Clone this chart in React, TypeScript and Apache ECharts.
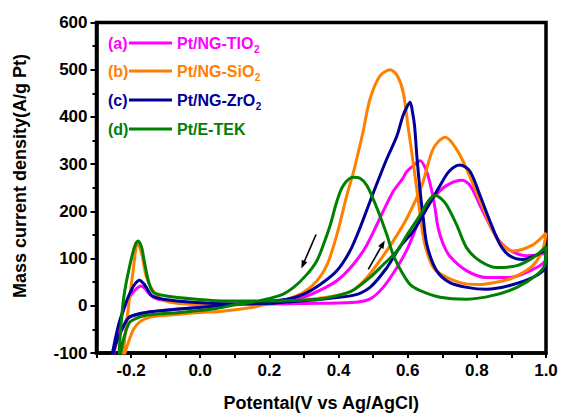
import React, { useEffect, useRef } from "react";
import * as echarts from "echarts";

type P = [number, number];

// ---- data (potential V, current A/g Pt) ----
const tiO2Forward: P[] = [
  [-0.256, -125], [-0.245, -75], [-0.232, -35], [-0.22, -5], [-0.205, 18], [-0.186, 35], [-0.172, 42],
  [-0.16, 37], [-0.15, 27], [-0.135, 18], [-0.108, 12], [-0.012, 6], [0.084, 4], [0.2, 4], [0.3, 5],
  [0.44, 7], [0.49, 14], [0.529, 39], [0.569, 81], [0.6, 122], [0.636, 184], [0.674, 228], [0.713, 255],
  [0.757, 266], [0.782, 253], [0.809, 213], [0.838, 170], [0.862, 140], [0.895, 118], [0.944, 106],
  [0.981, 108], [1.0, 112],
];
const tiO2Reverse: P[] = [
  [1.0, 112], [0.997, 95], [0.962, 77], [0.895, 60], [0.828, 60], [0.771, 74], [0.722, 105], [0.703, 130],
  [0.688, 165], [0.679, 207], [0.67, 242], [0.655, 284], [0.636, 307], [0.616, 297], [0.597, 284],
  [0.586, 270], [0.558, 242], [0.52, 186], [0.482, 129], [0.442, 87], [0.395, 53], [0.347, 33],
  [0.298, 18], [0.251, 11], [0.153, 5], [0.037, -1], [-0.061, -7], [-0.156, -14], [-0.205, -24],
  [-0.223, -45], [-0.243, -80], [-0.256, -125],
];

const siO2Forward: P[] = [
  [-0.228, -125], [-0.222, -94], [-0.209, -10], [-0.194, 74], [-0.182, 130], [-0.175, 124], [-0.168, 106],
  [-0.156, 62], [-0.137, 32], [-0.108, 12], [-0.061, 5], [0.037, 2], [0.15, 3], [0.25, 8], [0.3, 12],
  [0.395, 22], [0.442, 33], [0.482, 60], [0.511, 87], [0.558, 137], [0.598, 186], [0.641, 255],
  [0.674, 333], [0.708, 357], [0.746, 326], [0.786, 263], [0.818, 207], [0.858, 144], [0.904, 116],
  [0.962, 129], [1.0, 154],
];
const siO2Reverse: P[] = [
  [1.0, 154], [0.99, 118], [0.96, 84], [0.9, 58], [0.849, 49], [0.8, 45], [0.751, 49], [0.703, 64],
  [0.674, 81], [0.652, 123], [0.641, 165], [0.626, 249], [0.617, 297], [0.602, 375], [0.587, 452],
  [0.57, 487], [0.55, 500], [0.52, 487], [0.491, 438], [0.471, 369], [0.453, 312], [0.442, 280],
  [0.424, 234], [0.395, 150], [0.367, 87], [0.338, 53], [0.298, 28], [0.251, 14], [0.2, 5], [0.153, -3],
  [0.057, -12], [0.0, -14], [-0.096, -20], [-0.144, -24], [-0.173, -33], [-0.193, -50], [-0.208, -78],
  [-0.222, -110], [-0.228, -125],
];

const zrO2Forward: P[] = [
  [-0.26, -125], [-0.249, -82], [-0.236, -40], [-0.223, -10], [-0.205, 24], [-0.19, 45], [-0.175, 54],
  [-0.165, 48], [-0.156, 39], [-0.141, 22], [-0.108, 14], [-0.012, 7], [0.084, 4], [0.2, 5], [0.25, 8],
  [0.347, 14], [0.442, 22], [0.491, 39], [0.54, 81], [0.578, 125], [0.616, 158], [0.656, 207],
  [0.694, 255], [0.72, 285], [0.751, 298], [0.78, 285], [0.809, 234], [0.838, 179], [0.867, 130],
  [0.895, 106], [0.933, 98], [0.974, 108], [1.0, 118],
];
const zrO2Reverse: P[] = [
  [1.0, 118], [0.997, 81], [0.962, 60], [0.895, 43], [0.828, 35], [0.771, 39], [0.722, 49], [0.684, 74],
  [0.656, 128], [0.645, 186], [0.636, 242], [0.627, 312], [0.62, 380], [0.614, 410], [0.607, 431],
  [0.597, 420], [0.586, 402], [0.569, 360], [0.54, 312], [0.525, 285], [0.491, 221], [0.462, 165],
  [0.433, 116], [0.395, 74], [0.347, 45], [0.298, 24], [0.251, 14], [0.153, 7], [0.037, -1],
  [-0.061, -7], [-0.156, -14], [-0.205, -24], [-0.223, -45], [-0.243, -78], [-0.26, -125],
];

const etekForward: P[] = [
  [-0.237, -125], [-0.228, -31], [-0.22, 24], [-0.205, 81], [-0.19, 125], [-0.18, 137], [-0.17, 125],
  [-0.162, 95], [-0.15, 53], [-0.136, 29], [-0.107, 22], [-0.012, 14], [0.084, 10], [0.2, 10],
  [0.3, 12], [0.347, 14], [0.4, 22], [0.442, 33], [0.491, 60], [0.529, 87], [0.569, 116], [0.598, 150],
  [0.636, 192], [0.66, 222], [0.679, 234], [0.698, 226], [0.713, 213], [0.742, 171], [0.771, 122],
  [0.809, 95], [0.858, 81], [0.916, 85], [0.962, 102], [1.0, 125],
];
const etekReverse: P[] = [
  [1.0, 125], [0.997, 88], [0.974, 66], [0.916, 39], [0.847, 22], [0.771, 14], [0.694, 18], [0.636, 32],
  [0.607, 45], [0.584, 70], [0.558, 108], [0.54, 150], [0.511, 207], [0.482, 255], [0.462, 270],
  [0.443, 272], [0.414, 255], [0.395, 221], [0.376, 171], [0.356, 129], [0.337, 95], [0.308, 66],
  [0.27, 39], [0.231, 22], [0.153, 8], [0.1, 2], [0.037, -7], [-0.061, -14], [-0.156, -20],
  [-0.19, -28], [-0.205, -36], [-0.22, -66], [-0.237, -125],
];

const seriesNames = ["Pt/NG-TIO", "Pt/NG-SiO", "Pt/NG-ZrO", "Pt/E-TEK"];
const seriesTags = ["(a)", "(b)", "(c)", "(d)"];
const seriesSubs = ["2", "2", "2", ""];
const seriesColors = ["#FF00FF", "#FF8000", "#000099", "#008000"];
const seriesLoops: P[][] = [
  [...tiO2Forward, ...tiO2Reverse],
  [...siO2Forward, ...siO2Reverse],
  [...zrO2Forward, ...zrO2Reverse],
  [...etekForward, ...etekReverse],
];

// scan-direction arrows (data coords: tail -> head)
const scanArrows: [P, P][] = [
  [[0.335, 151], [0.297, 87]],
  [[0.486, 77], [0.528, 131]],
];

const FONT = '"Liberation Sans", Arial, Helvetica, sans-serif';

export default function App() {
  const ref = useRef<HTMLDivElement>(null);

  useEffect(() => {
    if (!ref.current) return;
    const chart = echarts.init(ref.current, undefined, { renderer: "svg" });

    const ctx = document.createElement("canvas").getContext("2d")!;
    ctx.font = `bold 16px ${FONT}`;

    const rowsY = [43, 71, 100, 129];
    const graphics: any[] = [];
    const txt = (x: number, y: number, text: string, fill: string, size: number, extra: any = {}) => ({
      type: "text",
      x,
      y,
      style: {
        text,
        fill,
        fontSize: size,
        fontWeight: "bold",
        fontFamily: FONT,
        textVerticalAlign: "middle",
        ...extra,
      },
    });
    seriesNames.forEach((name, i) => {
      const y = rowsY[i];
      const c = seriesColors[i];
      graphics.push(txt(108, y, seriesTags[i], c, 16));
      graphics.push({
        type: "line",
        shape: { x1: 129, y1: y, x2: 172, y2: y },
        style: { stroke: c, lineWidth: 3 },
      });
      const lx = 177;
      graphics.push(txt(lx, y, name, c, 16));
      if (seriesSubs[i]) {
        const w = ctx.measureText(name).width;
        graphics.push(txt(lx + w + 0.5, y + 6, seriesSubs[i], c, 10));
      }
    });
    graphics.push({
      type: "text",
      x: 20,
      y: 176,
      rotation: Math.PI / 2,
      style: {
        text: "Mass current density(A/g Pt)",
        fill: "#000",
        fontSize: 18,
        fontWeight: "bold",
        fontFamily: FONT,
        textAlign: "center",
        textVerticalAlign: "middle",
      },
    });

    const series: any[] = seriesLoops.map((loop, i) => ({
      type: "line",
      name: seriesNames[i],
      data: loop,
      showSymbol: false,
      symbol: "none",
      smooth: 0.3,
      lineStyle: { color: seriesColors[i], width: 3 },
      z: 2 + i,
    }));
    series.push({
      type: "line",
      data: [],
      markLine: {
        silent: true,
        symbol: ["none", "triangle"],
        symbolSize: [6, 8],
        label: { show: false },
        lineStyle: { color: "#000", width: 1.6, type: "solid" },
        data: scanArrows.map(([a, b]) => [{ coord: a }, { coord: b }]),
      },
    });

    chart.setOption({
      animation: false,
      grid: {
        left: 96.5,
        right: 16,
        top: 22.5,
        bottom: 61.5,
        show: true,
        borderColor: "#000",
        borderWidth: 3.5,
      },
      xAxis: {
        type: "value",
        min: -0.3,
        max: 1.0,
        interval: 0.1,
        axisLine: { show: true, onZero: false, lineStyle: { color: "#000", width: 3.5 } },
        axisTick: { show: true, inside: false, length: 5, lineStyle: { color: "#000", width: 2 } },
        splitLine: { show: false },
        axisLabel: {
          color: "#000",
          fontWeight: "bold",
          fontSize: 17,
          fontFamily: FONT,
          margin: 9,
          formatter: (v: number) => {
            const t = Math.round(v * 10);
            return t % 2 === 0 ? (t / 10).toFixed(1) : "";
          },
        },
        name: "Potental(V vs Ag/AgCl)",
        nameLocation: "middle",
        nameGap: 41,
        nameTextStyle: { color: "#000", fontWeight: "bold", fontSize: 18, fontFamily: FONT },
      },
      yAxis: {
        type: "value",
        min: -100,
        max: 600,
        interval: 100,
        axisLine: { show: true, onZero: false, lineStyle: { color: "#000", width: 3.5 } },
        axisTick: { show: true, inside: false, length: 6, lineStyle: { color: "#000", width: 2 } },
        minorTick: { show: true, splitNumber: 2, length: 4, lineStyle: { color: "#000", width: 2 } },
        splitLine: { show: false },
        minorSplitLine: { show: false },
        axisLabel: {
          color: "#000",
          fontWeight: "bold",
          fontSize: 17,
          fontFamily: FONT,
          margin: 9,
        },
      },
      series,
      graphic: graphics,
    });

    return () => chart.dispose();
  }, []);

  return (
    <div
      ref={ref}
      style={{ position: "fixed", left: 0, top: 0, width: 562, height: 417, background: "#fff" }}
    />
  );
}
